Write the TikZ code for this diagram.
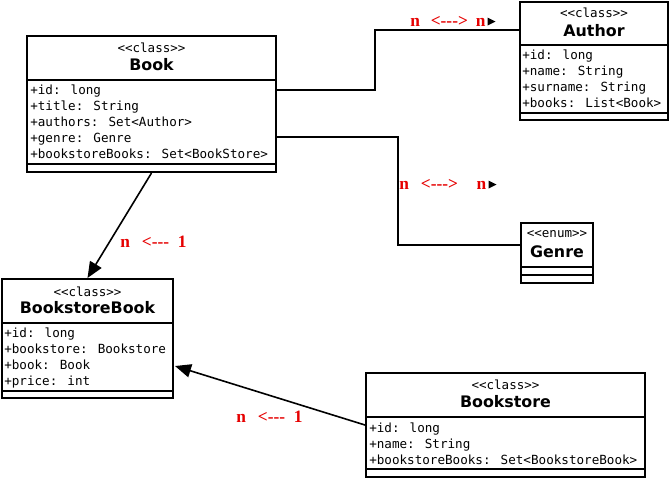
\documentclass[tikz,border=0pt]{standalone}
\usepackage{fontspec}
\newfontfamily\umono{DejaVu Sans Mono}[Ligatures=TeXOff]
\newfontfamily\usans{DejaVu Sans}[Ligatures=TeXOff]
\newfontfamily\ulbl{Liberation Serif}[Ligatures=TeXOff]
\usetikzlibrary{arrows.meta,fit}
\definecolor{lblred}{RGB}{230,0,0}
\begin{document}
\begin{tikzpicture}[x=0.75pt,y=-0.75pt,
  box/.style={draw=black, line width=1.5pt, inner sep=0pt},
  ster/.style={font=\umono\fontsize{9.4pt}{11pt}\selectfont, inner sep=0pt},
  cname/.style={font=\usans\bfseries\fontsize{11.9pt}{14pt}\selectfont, inner sep=0pt},
  attr/.style={font=\umono\fontsize{9.45pt}{12pt}\selectfont, inner sep=0pt, anchor=base west},
  sep/.style={line width=1.5pt},
  conn/.style={line width=1.5pt},
  lbl/.style={font=\ulbl\bfseries\fontsize{13pt}{15pt}\selectfont, text=lblred, inner sep=0pt, anchor=west},
  tri/.style={fill=black},
  arr/.style={line width=1.2pt, -{Triangle[length=12pt, width=10pt]}}]
\useasboundingbox[fill=white] (0,0) rectangle (671,480);

% Book
\node[box, fit={(27,36)(276,172)}] (book) {};
\draw[sep] (27,80) -- (276,80);
\draw[sep] (27,164) -- (276,164);
\node[ster] (bookst) at (151.5,48) {<<class>>};
\node[cname] (bookn) at (151.5,65) {Book};
\node[attr] (ba1) at (30,94) {+id: long};
\node[attr] (ba2) at (30,110) {+title: String};
\node[attr] (ba3) at (30,126) {+authors: Set<Author>};
\node[attr] (ba4) at (30,142) {+genre: Genre};
\node[attr] (ba5) at (30,158) {+bookstoreBooks: Set<BookStore>};

% Author
\node[box, fit={(520,2)(668,120)}] (author) {};
\draw[sep] (520,45) -- (668,45);
\draw[sep] (520,113) -- (668,113);
\node[ster] (authst) at (594,13) {<<class>>};
\node[cname] (authn) at (594,31) {Author};
\node[attr] (aa1) at (522,59.5) {+id: long};
\node[attr] (aa2) at (522,75.5) {+name: String};
\node[attr] (aa3) at (522,91.5) {+surname: String};
\node[attr] (aa4) at (522,107.5) {+books: List<Book>};

% Genre
\node[box, fit={(521,223)(593,283)}] (genre) {};
\draw[sep] (521,267) -- (593,267);
\draw[sep] (521,275) -- (593,275);
\node[ster] (genst) at (557,234) {<<enum>>};
\node[cname] (genn) at (557,252) {Genre};

% BookstoreBook
\node[box, fit={(2,279)(173,398)}] (bsb) {};
\draw[sep] (2,323) -- (173,323);
\draw[sep] (2,391) -- (173,391);
\node[ster] (bsbst) at (87.5,292) {<<class>>};
\node[cname] (bsbn) at (87.5,308) {BookstoreBook};
\node[attr] (bb1) at (4,337.5) {+id: long};
\node[attr] (bb2) at (4,353.5) {+bookstore: Bookstore};
\node[attr] (bb3) at (4,369.5) {+book: Book};
\node[attr] (bb4) at (4,385.5) {+price: int};

% Bookstore
\node[box, fit={(366,373)(645,477)}] (store) {};
\draw[sep] (366,417) -- (645,417);
\draw[sep] (366,469) -- (645,469);
\node[ster] (storest) at (505.5,385) {<<class>>};
\node[cname] (storen) at (505.5,402) {Bookstore};
\node[attr] (sa1) at (369,432.5) {+id: long};
\node[attr] (sa2) at (369,448.5) {+name: String};
\node[attr] (sa3) at (369,464.5) {+bookstoreBooks: Set<BookstoreBook>};

% connectors
\draw[conn] (book.east |- 0,90) -- (375,90) -- (375,30) -- (author.west |- 0,30);
\draw[conn] (book.east |- 0,137) -- (398,137) -- (398,245) -- (genre.west |- 0,245);
\draw[arr] (book.south) -- (bsb.north);
\draw[arr] (store.west |- 0,425) -- (175,366);

% labels
\node[lbl] (l1) at (410,21.5) {n\hspace{8.2pt}<--->\hspace{6pt}n};
\fill[tri] (487.5,17.5) -- (495.5,21.5) -- (487.5,25.5) -- cycle;
\node[lbl] (l2) at (399,184.5) {n\hspace{9pt}<--->\hspace{14pt}n};
\fill[tri] (488.5,180.5) -- (496.5,184.5) -- (488.5,188.5) -- cycle;
\node[lbl] (l3) at (120,242) {n\hspace{9pt}<---\hspace{6.5pt}1};
\node[lbl] (l4) at (236,417) {n\hspace{9pt}<---\hspace{6.5pt}1};
\end{tikzpicture}
\end{document}
